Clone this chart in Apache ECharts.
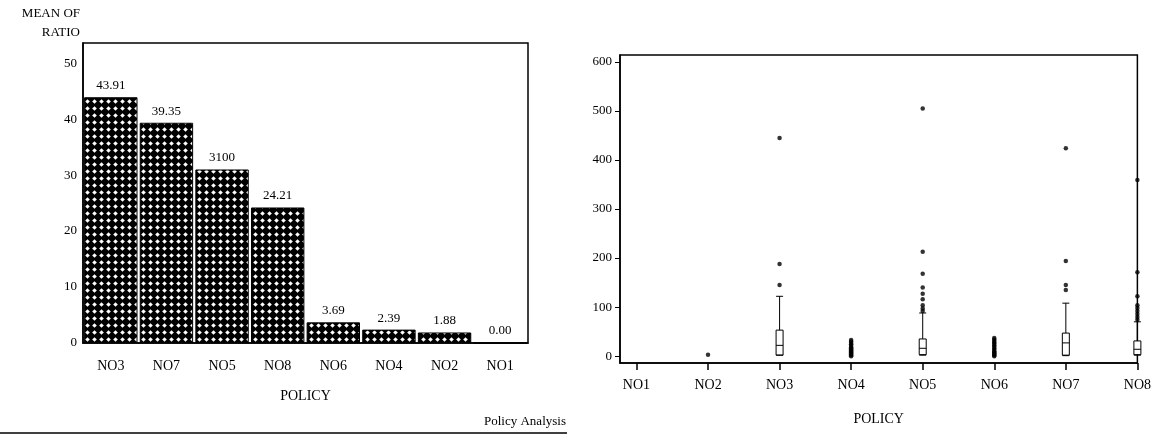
<!DOCTYPE html>
<html>
<head>
<meta charset="utf-8">
<script src="https://cdn.jsdelivr.net/npm/echarts@6/dist/echarts.min.js"></script>
<style>
  html, body { margin: 0; padding: 0; background: #fff; }
  #main { width: 1154px; height: 437px; }
</style>
</head>
<body>
<div id="main"></div>
<script>
// left: mean of ratio by policy
const barCats = ['NO3', 'NO7', 'NO5', 'NO8', 'NO6', 'NO4', 'NO2', 'NO1'];
const barMeans = [43.91, 39.35, 31.00, 24.21, 3.69, 2.39, 1.88, 0.00];
const barLabels = ['43.91', '39.35', '3100', '24.21', '3.69', '2.39', '1.88', '0.00'];
const leftTicks = [0, 10, 20, 30, 40, 50];

// right: box plots of ratio by policy
const policyTicks = [1, 2, 3, 4, 5, 6, 7, 8];
const rightTicks = [0, 100, 200, 300, 400, 500, 600];
const boxPolicy = [3, 5, 7, 8];
const boxMin = [2, 2, 1, 2];
const boxQ1 = [2, 3, 2, 3];
const boxMed = [22, 16, 27, 14];
const boxQ3 = [53, 35, 47, 31];
const boxMax = [122, 88, 108, 70];

const outNO2 = [3];
const outNO3 = [145, 188, 445];
const outNO4 = [0, 2, 4, 6, 8, 10, 12, 14, 16, 18, 21, 24, 27, 30, 33];
const outNO5 = [92, 97, 104, 116, 127, 140, 168, 213, 505];
const outNO6 = [0, 2, 4, 6, 8, 10, 13, 16, 19, 22, 25, 28, 31, 34, 37];
const outNO7 = [135, 145, 194, 424];
const outNO8 = [74, 80, 86, 92, 98, 104, 122, 171, 359];

const FONT = 'Liberation Serif';

// crosshatch fill for the bars
function hatch() {
    const c = document.createElement('canvas');
    c.width = 7; c.height = 7;
    const g = c.getContext('2d');
    g.fillStyle = '#000';
    g.fillRect(0, 0, 7, 7);
    g.fillStyle = '#fff';
    g.beginPath();
    g.moveTo(3.5, 1.2); g.lineTo(5.8, 3.5); g.lineTo(3.5, 5.8); g.lineTo(1.2, 3.5);
    g.closePath();
    g.fill();
    return c;
}

const outliers = [];
[[2, outNO2], [3, outNO3], [4, outNO4], [5, outNO5], [6, outNO6], [7, outNO7], [8, outNO8]].forEach(function (p) {
    p[1].forEach(function (v) { outliers.push([p[0], v]); });
});
const boxData = boxPolicy.map(function (x, i) {
    return [x, boxMin[i], boxQ1[i], boxMed[i], boxQ3[i], boxMax[i]];
});

const txt = {color: '#000', fontFamily: FONT, fontSize: 13};

let myChart = echarts.init(document.getElementById('main'));
myChart.setOption({
    animation: false,
    backgroundColor: '#fff',
    textStyle: {fontFamily: FONT, color: '#000'},
    grid: [
        {left: 83, right: 626, top: 43, bottom: 94, show: true, borderColor: '#000', borderWidth: 1.5},
        {left: 620, right: 11, top: 55, bottom: 74, show: true, borderColor: '#000', borderWidth: 1.5}
    ],
    xAxis: [{
        gridIndex: 0,
        type: 'category',
        data: barCats,
        axisLine: {lineStyle: {color: '#000', width: 1.5}},
        axisTick: {show: false},
        axisLabel: Object.assign({margin: 16}, txt, {fontSize: 14}),
        name: 'POLICY',
        nameLocation: 'middle',
        nameGap: 46,
        nameTextStyle: Object.assign({}, txt, {fontSize: 14})
    }, {
        gridIndex: 1,
        type: 'value',
        min: 0.77,
        max: 8,
        splitLine: {show: false},
        axisLine: {onZero: false, lineStyle: {color: '#000', width: 1.5}},
        axisTick: {customValues: policyTicks, length: 7, lineStyle: {color: '#000', width: 1.5}},
        axisLabel: Object.assign({customValues: policyTicks, margin: 15, formatter: function (v) { return 'NO' + v; }}, txt, {fontSize: 14}),
        name: 'POLICY',
        nameLocation: 'middle',
        nameGap: 49,
        nameTextStyle: Object.assign({}, txt, {fontSize: 14})
    }],
    yAxis: [{
        gridIndex: 0,
        type: 'value',
        min: 0,
        max: 53.6,
        splitLine: {show: false},
        axisLine: {show: true, lineStyle: {color: '#000', width: 1.5}},
        axisTick: {customValues: leftTicks, length: 4, lineStyle: {color: '#000'}},
        axisLabel: Object.assign({customValues: leftTicks, margin: 6}, txt)
    }, {
        gridIndex: 1,
        type: 'value',
        min: -14,
        max: 614,
        splitLine: {show: false},
        axisLine: {show: true, onZero: false, lineStyle: {color: '#000', width: 1.5}},
        axisTick: {customValues: rightTicks, length: 5, lineStyle: {color: '#000'}},
        axisLabel: Object.assign({customValues: rightTicks, margin: 8}, txt)
    }],
    series: [{
        type: 'bar',
        xAxisIndex: 0,
        yAxisIndex: 0,
        data: barMeans,
        barCategoryGap: '4%',
        itemStyle: {
            color: {image: hatch(), repeat: 'repeat'},
            borderColor: '#000',
            borderWidth: 1
        },
        label: {
            show: true,
            position: 'top',
            distance: 5,
            color: '#000',
            fontFamily: FONT,
            fontSize: 13,
            formatter: function (p) { return barLabels[p.dataIndex]; }
        }
    }, {
        type: 'boxplot',
        xAxisIndex: 1,
        yAxisIndex: 1,
        layout: 'horizontal',
        boxWidth: [7, 7],
        data: boxData,
        itemStyle: {color: '#fff', borderColor: '#000', borderWidth: 1}
    }, {
        type: 'scatter',
        xAxisIndex: 1,
        yAxisIndex: 1,
        data: outliers,
        symbol: 'circle',
        symbolSize: 4.5,
        itemStyle: {color: '#000'}
    }],
    graphic: [
        {type: 'text', right: 1154 - 80, top: 7, style: {text: 'MEAN OF', fill: '#000', font: '13px "Liberation Serif"'}},
        {type: 'text', right: 1154 - 80, top: 26, style: {text: 'RATIO', fill: '#000', font: '13px "Liberation Serif"'}},
        {type: 'text', left: 484, top: 415, style: {text: 'Policy Analysis', fill: '#000', font: '13px "Liberation Serif"'}},
        {type: 'line', shape: {x1: 0, y1: 433, x2: 567, y2: 433}, style: {stroke: '#000', lineWidth: 1.5}}
    ]
});
</script>
</body>
</html>
